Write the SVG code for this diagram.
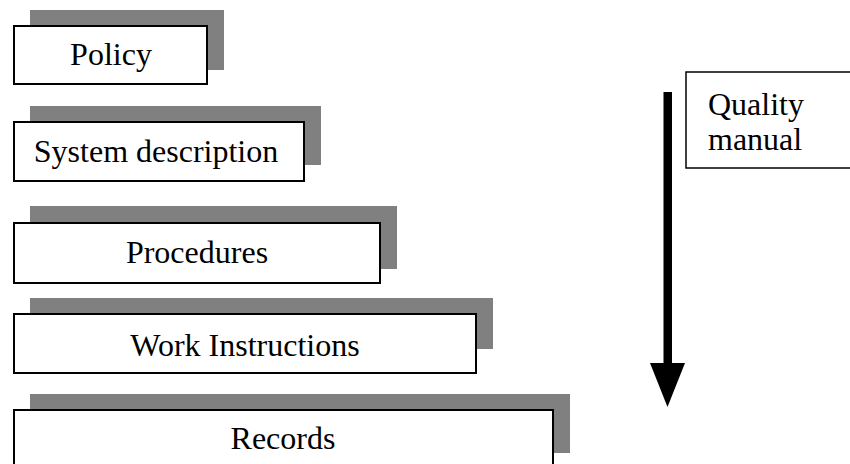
<svg xmlns="http://www.w3.org/2000/svg" width="850" height="464" viewBox="0 0 850 464">
<style>
.sh{fill:#808080;stroke:none}
.bx{fill:#fff;stroke:#000;stroke-width:2}
.qb{fill:#fff;stroke:#000;stroke-width:1.5}
.t{font-family:"Liberation Serif","Times New Roman",serif;font-size:32px;fill:#000;text-anchor:middle}
.tl{font-family:"Liberation Serif","Times New Roman",serif;font-size:32px;fill:#000}
</style>
<rect width="850" height="464" fill="#fff"/>
<g id="policy">
<rect class="sh" x="30" y="10" width="194" height="60"/>
<rect class="bx" x="14" y="26" width="193" height="58"/>
<text class="t" x="111" y="65">Policy</text>
</g>
<g id="system-description">
<rect class="sh" x="30" y="106" width="291" height="59"/>
<rect class="bx" x="14" y="122" width="290" height="59"/>
<text class="t" x="156" y="162">System description</text>
</g>
<g id="procedures">
<rect class="sh" x="30" y="206" width="367" height="63"/>
<rect class="bx" x="14" y="223" width="366" height="60"/>
<text class="t" x="197" y="263">Procedures</text>
</g>
<g id="work-instructions">
<rect class="sh" x="30" y="298" width="463" height="51"/>
<rect class="bx" x="14" y="314" width="462" height="59"/>
<text class="t" x="245" y="356">Work Instructions</text>
</g>
<g id="records">
<rect class="sh" x="30" y="394" width="540" height="59"/>
<rect class="bx" x="14" y="410" width="539" height="64"/>
<text class="t" x="283" y="449">Records</text>
</g>
<g id="quality-manual">
<rect class="qb" x="686" y="72" width="180" height="96"/>
<text class="tl" x="708" y="115">Quality</text>
<text class="tl" x="708" y="150">manual</text>
</g>
<g id="connectors">
<rect x="663.5" y="92" width="8.5" height="272" fill="#000"/>
<polygon points="650,363 685,363 667.5,407" fill="#000"/>
</g>
</svg>
